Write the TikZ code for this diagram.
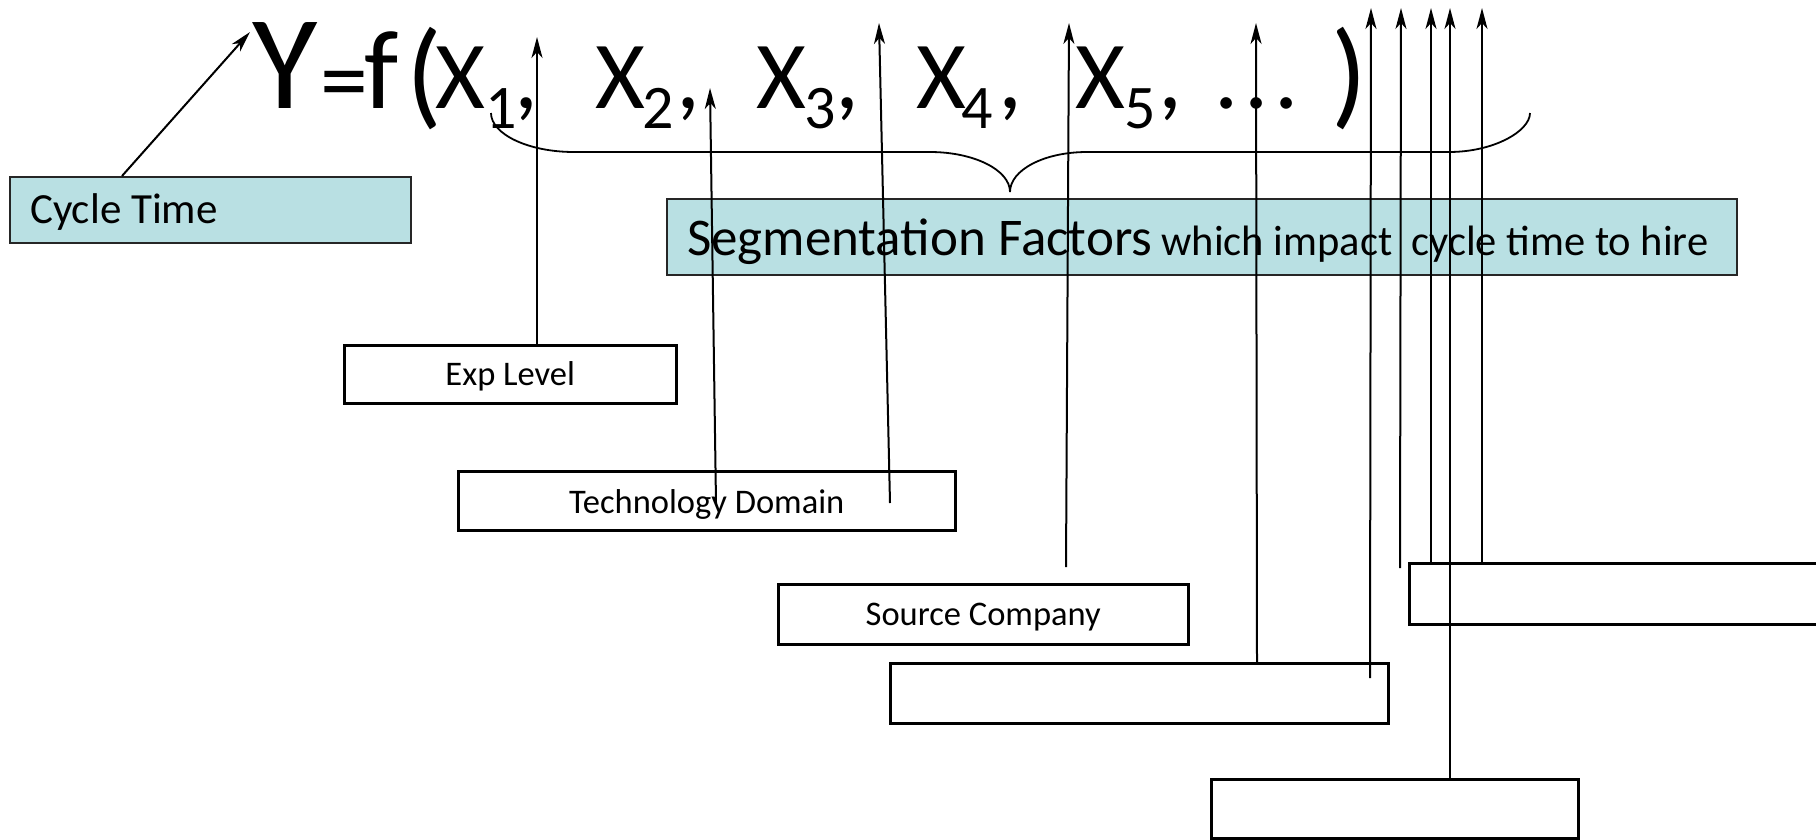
\documentclass[tikz,border=0pt]{standalone}
\usepackage{fontspec}
\setmainfont{Carlito}
\usetikzlibrary{arrows.meta}
\definecolor{boxblue}{HTML}{B9E0E3}
\begin{document}
\begin{tikzpicture}[x=1pt,y=-1pt,
  glyph/.style={anchor=base west, inner sep=0pt, outer sep=0pt},
  fY/.style={glyph, font=\fontsize{134}{140}\selectfont},
  fbig/.style={glyph, font=\fontsize{96}{100}\selectfont},
  ff/.style={glyph, font=\fontsize{112}{120}\selectfont},
  fpar/.style={glyph, font=\fontsize{118}{124}\selectfont},
  fsub/.style={glyph, font=\fontsize{62}{66}\selectfont},
  bluebox/.style={draw=black!85, line width=2.2pt, fill=boxblue, inner sep=0pt, anchor=north west},
  factorbox/.style={draw=black, line width=2.5pt, fill=white, inner sep=0pt, anchor=north west,
    font=\fontsize{34.5}{40}\selectfont},
  link/.style={line width=2pt, -{Stealth[length=21pt,width=11pt,inset=6pt]}},
  bracepath/.style={line width=1.8pt},
]
\useasboundingbox (0,0) rectangle (1816,839);

% ---- the function Y = f(X1, X2, ...)
\node[fY]   (symY)  at (252,108) {Y};
\node[fbig] (symEq) at (320,112) {=};
\node[ff]   (symF)  at (364,108) {f};
\node[fpar] (symLP) at (406,113) {(};
\node[fbig] (x1)  at (435,108) {X};
\node[fsub] (s1)  at (485,128) {1};
\node[fbig] (c1)  at (514,108) {,};
\node[fbig] (x2)  at (595,108) {X};
\node[fsub] (s2)  at (642,128) {2};
\node[fbig] (c2)  at (676,108) {,};
\node[fbig] (x3)  at (756,108) {X};
\node[fsub] (s3)  at (804,128) {3};
\node[fbig] (c3)  at (835,108) {,};
\node[fbig] (x4)  at (916,108) {X};
\node[fsub] (s4)  at (961,128) {4};
\node[fbig] (c4)  at (998,108) {,};
\node[fbig] (x5)  at (1075,108) {X};
\node[fsub] (s5)  at (1124,128) {5};
\node[fbig] (c5)  at (1158,108) {,};
\node[fbig] (dots) at (1214,108) {.\kern6pt.\kern6pt.};
\node[fpar] (symRP) at (1331,113) {)};

% ---- brace under the factors
\draw[bracepath] (491,113) .. controls (491,134) and (528,152) .. (574,152)
  -- (930,152) .. controls (974,152) and (1010,170) .. (1010,192)
  .. controls (1010,170) and (1044,152) .. (1087,152)
  -- (1449,152) .. controls (1494,152) and (1530,131) .. (1530,113);

% ---- boxes
\node[bluebox, minimum width=401pt, minimum height=66pt, text height=26pt, text depth=0pt,
      font=\fontsize{43}{48}\selectfont] (cycle) at (9,176)
  {\makebox[361pt][l]{Cycle Time}};
\node[bluebox, minimum width=1070pt, minimum height=76pt, text height=36pt, text depth=0pt] (segment) at (666,198)
  {\makebox[1030pt][l]{{\fontsize{53}{60}\selectfont Segmentation Factors}\hspace{9pt}{\fontsize{42.5}{48}\selectfont which impact~ cycle time to hire}}};

\node[factorbox, minimum width=332pt, minimum height=58pt, text height=22pt, text depth=0pt] (explevel) at (343,344) {Exp Level};
\node[factorbox, minimum width=497pt, minimum height=59pt, text height=25pt, text depth=0pt] (techdomain) at (457,470) {Technology Domain};
\node[factorbox, minimum width=410pt, minimum height=60pt, text height=22pt, text depth=0pt] (source) at (777,583) {Source Company};
\node[factorbox, minimum width=498pt, minimum height=60pt] (boxD) at (889,662) {};
\node[factorbox, minimum width=440pt, minimum height=61pt] (boxE) at (1408,562) {};
\node[factorbox, minimum width=367pt, minimum height=59pt] (boxF) at (1210,778) {};

% ---- arrow tips near the formula
\coordinate (tipY)  at (250,32);
\coordinate (tipX1) at (537,37);
\coordinate (tipX2) at (710,88);
\coordinate (tipX3) at (879,23);
\coordinate (tipX5) at (1069,23);
\coordinate (tipDots) at (1256,23);
\coordinate (tipA) at (1371,8);
\coordinate (tipB) at (1401,8);
\coordinate (tipC) at (1431,8);
\coordinate (tipD) at (1450,8);
\coordinate (tipE) at (1482,8);

% ---- line origins
\coordinate (fromCycle) at ([shift={(113,0)}]cycle.north west);
\coordinate (fromTechA) at ([shift={(259,33)}]techdomain.north west);
\coordinate (fromTechB) at ([shift={(433,33)}]techdomain.north west);
\coordinate (fromSource) at (1066,567);
\coordinate (fromDA) at ([shift={(368,0)}]boxD.north west);
\coordinate (fromDB) at ([shift={(481,16)}]boxD.north west);
\coordinate (fromFree) at (1400,568);
\coordinate (fromEA) at ([shift={(23,0)}]boxE.north west);
\coordinate (fromF) at ([shift={(240,0)}]boxF.north west);
\coordinate (fromEB) at ([shift={(74,0)}]boxE.north west);

% ---- connectors
\draw[link] (fromCycle) -- (tipY);
\draw[link] (explevel.north -| tipX1) -- (tipX1);
\draw[link] (fromTechA) -- (tipX2);
\draw[link] (fromTechB) -- (tipX3);
\draw[link] (fromSource) -- (tipX5);
\draw[link] (fromDA) -- (tipDots);
\draw[link] (fromDB) -- (tipA);
\draw[link] (fromFree) -- (tipB);
\draw[link] (fromEA) -- (tipC);
\draw[link] (fromF) -- (tipD);
\draw[link] (fromEB) -- (tipE);
\end{tikzpicture}
\end{document}
